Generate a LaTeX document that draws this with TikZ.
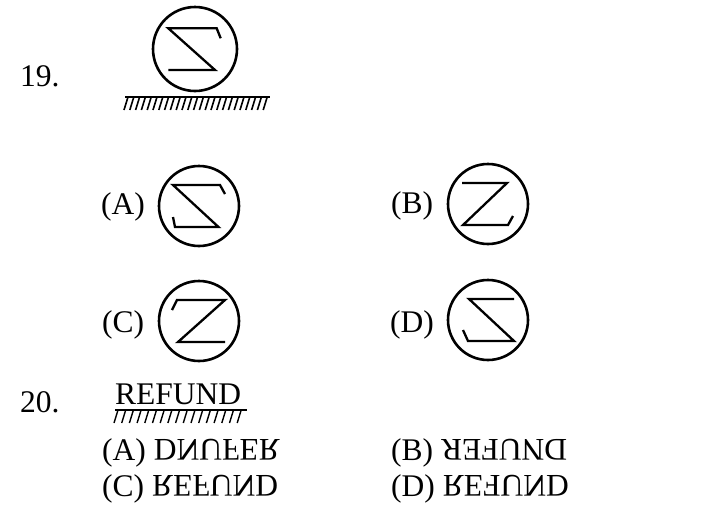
\documentclass[tikz,border=0pt]{standalone}
\usepackage{fontspec}
\setmainfont{Liberation Serif}
\usepackage{graphicx}
\newcommand\vflip[1]{\raisebox{\depth}{\scalebox{1}[-1]{#1}}}
\newcommand\rotflip[1]{\rotatebox[origin=c]{180}{#1}}
\begin{document}
\begin{tikzpicture}[x=1pt,y=-1pt,
  txt/.style={inner sep=0pt, font=\fontsize{31.5}{36}\selectfont},
  ring/.style={circle, draw, line width=2.6pt, minimum size=80pt, inner sep=0pt},
  zline/.style={line width=2.3pt, line join=miter},
  ground/.style={line width=2.2pt},
  hatch/.style={line width=1.6pt}]
\useasboundingbox (0,0) rectangle (712,512);

% ---------- 19 ----------
\node[txt, anchor=base west] (n19) at (20,86) {19.};
\node[ring, minimum size=84pt] (q) at (195,49) {};
\begin{scope}[shift={(q.center)}]
  \draw[zline] (25.7,-10.7) -- (21.7,-20.7) -- (-26.7,-20.7) -- (20,21) -- (-26.7,21);
\end{scope}
\draw[ground] (125,97) -- (270,97);
\foreach \i in {0,...,24} \draw[hatch] ({124+\i*5.8},110) -- ++(4,-13);

% options
\node[txt, anchor=west] (la) at (101,207) {(A)};
\node[ring] (a) at (199,206) {};
\begin{scope}[shift={(a.center)}]
  \draw[zline] (26,-12) -- (21,-21) -- (-26,-21) -- (19.5,21) -- (-24,21) -- (-26,11);
\end{scope}

\node[txt, anchor=west] (lb) at (391,206) {(B)};
\node[ring] (b) at (488,204) {};
\begin{scope}[shift={(b.center)}]
  \draw[zline] (-26,-21) -- (19,-21) -- (-25,21) -- (20,21) -- (25,12);
\end{scope}

\node[txt, anchor=west] (lc) at (102,325) {(C)};
\node[ring] (c) at (199,321) {};
\begin{scope}[shift={(c.center)}]
  \draw[zline] (-27,-11) -- (-22,-21) -- (26,-21) -- (-21,21) -- (26,21);
\end{scope}

\node[txt, anchor=west] (ld) at (390,325) {(D)};
\node[ring] (d) at (488,320) {};
\begin{scope}[shift={(d.center)}]
  \draw[zline] (26,-21) -- (-19,-21) -- (26,21) -- (-20,21) -- (-25,10);
\end{scope}

% ---------- 20 ----------
\node[txt, anchor=base west] (n20) at (20,412) {20.};
\node[txt, anchor=base west] (w) at (115,404) {REFUND};
\draw[ground, line width=1.9pt] (115,410) -- (247,410);
\foreach \i in {0,...,16} \draw[hatch, line width=1.4pt] ({114+\i*7.7},423) -- ++(4,-13);

\node[txt, anchor=base west] (oa) at (102,460) {(A) \vflip{DNUFER}};
\node[txt, anchor=base west] (ob) at (391,460) {(B) \rotflip{DNUFER}};
\node[txt, anchor=base west] (oc) at (102,496) {(C) \vflip{REFUND}};
\node[txt, anchor=base west] (od) at (391,496) {(D) \vflip{RE}\rotflip{F}\vflip{UND}};
\end{tikzpicture}
\end{document}
